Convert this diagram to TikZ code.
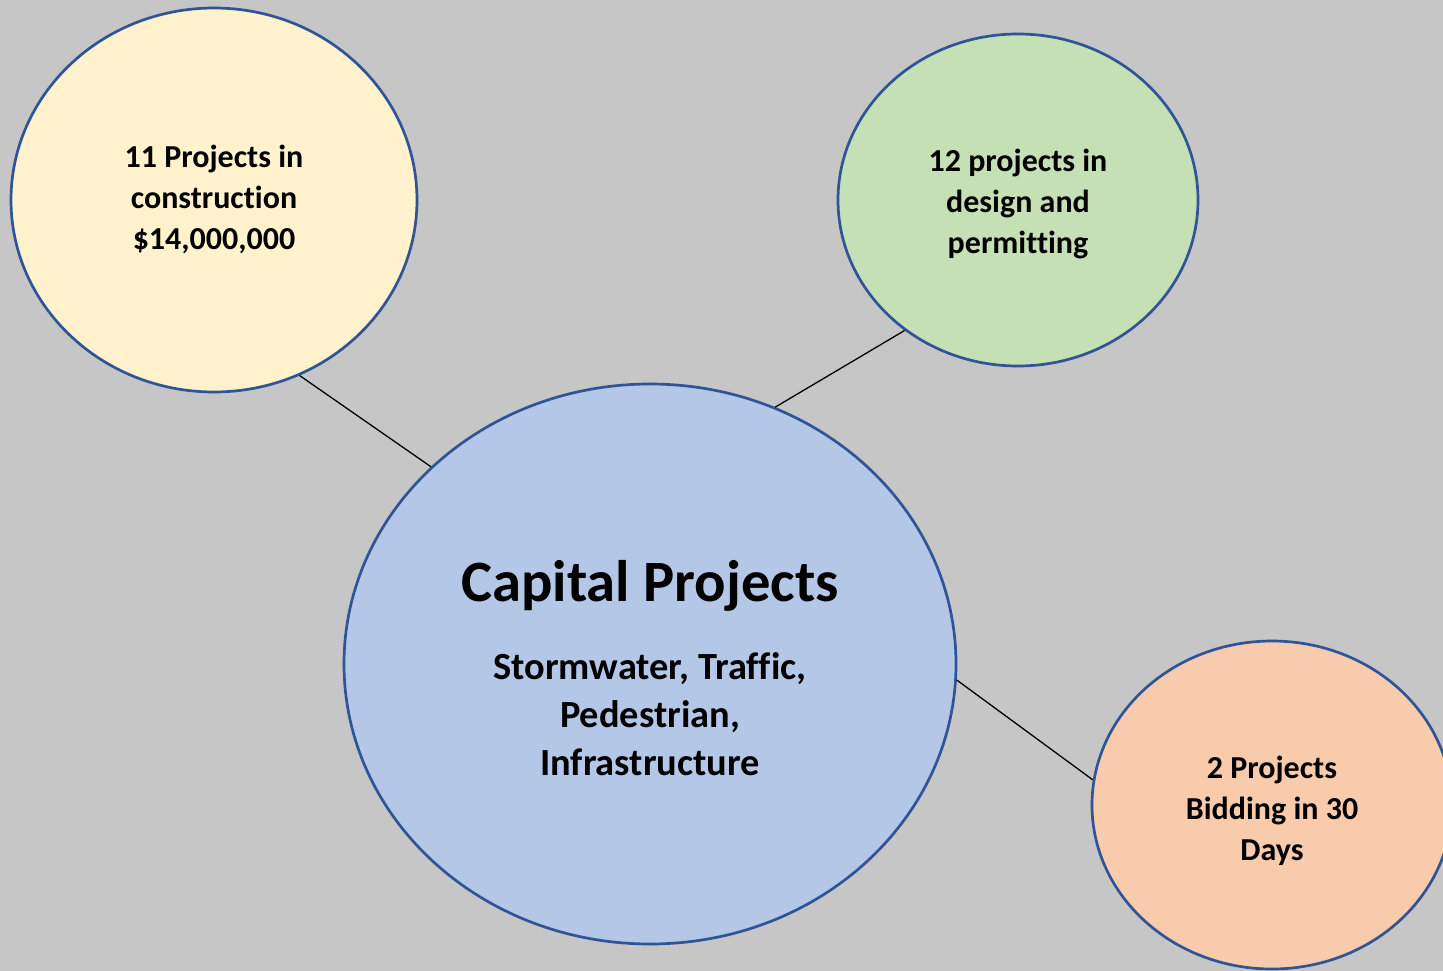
\documentclass[tikz,border=0pt]{standalone}
\usepackage{fontspec}
\setmainfont{Carlito}[RawFeature=-liga]
\usetikzlibrary{shapes.geometric}
\definecolor{bggray}{RGB}{198,198,198}
\definecolor{edgeblue}{RGB}{47,85,151}
\definecolor{fillyellow}{RGB}{255,242,204}
\definecolor{fillgreen}{RGB}{197,224,180}
\definecolor{fillblue}{RGB}{180,199,231}
\definecolor{fillorange}{RGB}{248,203,173}
\tikzset{
  bubble/.style={ellipse, draw=edgeblue, line width=2.7pt, inner sep=0pt},
  bubbletext/.style={align=center, inner sep=0pt, font=\fontsize{32}{41}\selectfont\bfseries},
  link/.style={draw=black, line width=1.3pt},
}
\begin{document}
\begin{tikzpicture}[x=1pt,y=-1pt]
\fill[bggray] (0,0) rectangle (1443,971);
\useasboundingbox (0,0) rectangle (1443,971);
\begin{scope}
\clip (0,0) rectangle (1443,971);
\node[bubble, fill=fillyellow, minimum width=406pt, minimum height=384pt] (yel) at (214,200) {};
\node[bubble, fill=fillgreen, minimum width=360pt, minimum height=332pt] (grn) at (1018,200) {};
\node[bubble, fill=fillblue, minimum width=612pt, minimum height=560pt] (blu) at (650,664) {};
\node[bubble, fill=fillorange, minimum width=360pt, minimum height=328pt] (org) at (1272,805) {};
\end{scope}
\node[bubbletext] (yelt) at ([yshift=1pt]yel.center) {11 Projects in\\construction\\\$14,000,000};
\node[bubbletext] (grnt) at ([yshift=-4pt]grn.center) {12 projects in\\design and\\permitting};
\node[bubbletext] (orgt) at ([yshift=-6pt]org.center) {2 Projects\\Bidding in 30\\Days};
\node[font=\fontsize{58.6}{70}\selectfont\bfseries, inner sep=0pt] (title) at (650,586) {Capital Projects};
\node[font=\fontsize{38.4}{48}\selectfont\bfseries, align=center, inner sep=0pt] (sub) at (650,714)
  {Stormwater, Traffic,\\Pedestrian,\\Infrastructure};
\draw[link] (yel.-64.6) -- (blu.138.2);
\draw[link] (blu.64.8) -- (grn.-131);
\draw[link] (blu.-3.4) -- (org.172.4);
\end{tikzpicture}
\end{document}
